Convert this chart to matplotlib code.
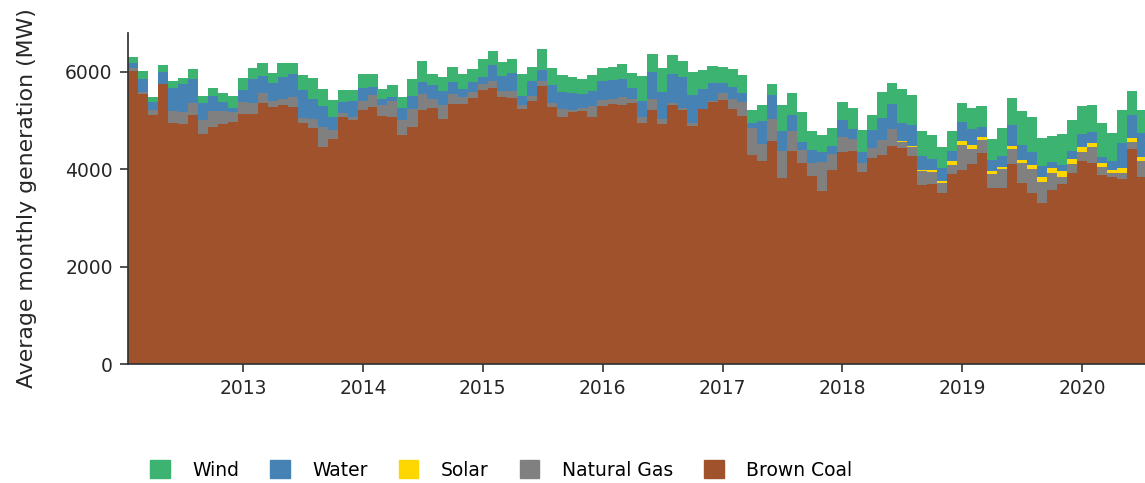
import numpy as np
import pandas as pd
import matplotlib
matplotlib.use("Agg")
import matplotlib.pyplot as plt
import matplotlib.dates as mdates
from matplotlib.patches import Patch

# monthly averages (MW), Feb 2012 .. Jul 2020
months = pd.date_range("2012-02-01", periods=102, freq="MS")

brown_coal = [6020, 5550, 5105, 5740, 4955, 4920, 5105, 4715, 4875, 4935, 4970, 5140,
              5125, 5365, 5275, 5315, 5275, 4940, 4835, 4445, 4615, 5070, 5005, 5210,
              5275, 5090, 5070, 4695, 4875, 5215, 5250, 5025, 5345, 5330, 5465, 5620,
              5670, 5490, 5465, 5240, 5400, 5705, 5275, 5070, 5175, 5195, 5080, 5295,
              5330, 5320, 5350, 4955, 5215, 4920, 5310, 5210, 4885, 5230, 5385, 5415,
              5240, 5090, 4285, 4170, 4580, 3810, 4375, 4125, 3865, 3545, 3985, 4360,
              4375, 3945, 4230, 4300, 4475, 4430, 4265, 3670, 3700, 3515, 3910, 3975,
              4115, 4325, 3610, 3610, 4115, 3720, 3505, 3295, 3565, 3690, 3930, 4165,
              4135, 3880, 3835, 3790, 4415, 3845]

natural_gas = [50, 35, 100, 10, 240, 255, 260, 295, 320, 260, 205, 240,
               240, 205, 125, 130, 205, 100, 190, 430, 190, 90, 70, 190,
               245, 225, 320, 315, 370, 320, 185, 295, 190, 155, 115, 120,
               135, 115, 135, 70, 100, 105, 75, 160, 40, 70, 220, 115,
               100, 170, 95, 115, 220, 115, 55, 55, 70, 15, 15, 140,
               190, 295, 565, 340, 445, 555, 410, 265, 255, 605, 335, 305,
               240, 180, 205, 290, 355, 130, 195, 290, 235, 205, 180, 525,
               305, 275, 290, 390, 300, 400, 490, 435, 350, 155, 170, 185,
               315, 170, 95, 140, 150, 330]

solar = [0] * 77 + [25, 25, 25, 40, 40, 75, 70, 85, 60, 60, 50, 70, 70,
                    90, 100, 110, 110, 110, 105, 95, 80, 55, 90, 70, 70]

water = [100, 275, 170, 245, 465, 565, 480, 355, 310, 185, 90, 245,
         480, 340, 360, 450, 465, 595, 410, 425, 265, 220, 325, 275,
         165, 130, 95, 240, 260, 260, 295, 275, 250, 165, 205, 155,
         340, 305, 375, 190, 310, 225, 370, 360, 340, 275, 295, 395,
         390, 370, 225, 325, 560, 555, 595, 635, 565, 410, 375, 220,
         255, 185, 90, 480, 500, 425, 320, 170, 275, 210, 155, 335,
         205, 220, 360, 465, 500, 355, 420, 280, 240, 265, 205, 390,
         315, 205, 230, 210, 415, 300, 275, 230, 115, 125, 160, 260,
         225, 125, 190, 515, 480, 495]

wind = [130, 155, 110, 145, 150, 135, 205, 135, 155, 190, 240, 255,
        240, 260, 220, 285, 225, 305, 445, 340, 340, 245, 225, 285,
        275, 205, 240, 240, 355, 425, 230, 300, 310, 295, 275, 370,
        275, 295, 285, 460, 285, 435, 360, 335, 335, 320, 335, 275,
        275, 290, 305, 510, 375, 490, 380, 320, 470, 380, 340, 325,
        375, 360, 275, 325, 220, 530, 465, 615, 395, 335, 375, 385,
        430, 465, 320, 520, 430, 705, 625, 520, 480, 425, 410, 390,
        440, 425, 435, 585, 560, 710, 705, 580, 540, 635, 630, 580,
        550, 685, 575, 670, 480, 480]

sources = ["Brown Coal", "Natural Gas", "Solar", "Water", "Wind"]
colors = {"Brown Coal": "sienna", "Natural Gas": "gray", "Solar": "gold",
          "Water": "steelblue", "Wind": "mediumseagreen"}
values = {"Brown Coal": brown_coal, "Natural Gas": natural_gas, "Solar": solar,
          "Water": water, "Wind": wind}

fig = plt.figure(figsize=(11.45, 4.83), dpi=100)
ax = fig.add_axes([128 / 1145, 119 / 483, 1017 / 1145, 331 / 483])

bottom = np.zeros(len(months))
for s in sources:
    v = np.array(values[s], dtype=float)
    ax.bar(months, v, width=31, bottom=bottom, color=colors[s], linewidth=0, align="center")
    bottom += v

ax.set_xlim(pd.Timestamp("2012-01-16"), pd.Timestamp("2020-07-11"))
ax.set_ylim(0, 6795)
ax.set_yticks([0, 2000, 4000, 6000])
ax.xaxis.set_major_locator(mdates.YearLocator())
ax.xaxis.set_major_formatter(mdates.DateFormatter("%Y"))

for side in ["top", "right"]:
    ax.spines[side].set_visible(False)
for side in ["left", "bottom"]:
    ax.spines[side].set_color("#333333")
    ax.spines[side].set_linewidth(1.25)
    ax.spines[side].set_zorder(3)

ax.tick_params(axis="both", length=6, width=1.2, color="#333333",
               labelsize=13.5, labelcolor="#262626", pad=5)
ax.set_ylabel("Average monthly generation (MW)", fontsize=15.8, color="#262626", labelpad=20)

handles = [Patch(color=colors[s]) for s in sources[::-1]]
fig.legend(handles, sources[::-1], loc="center left", bbox_to_anchor=(150 / 1145, 1 - 470 / 483),
           ncol=5, frameon=False, fontsize=13.5, handlelength=1.05, handleheight=1.05,
           handletextpad=1.2, columnspacing=1.65, borderpad=0, borderaxespad=0)

fig.savefig("out.png", dpi=100)
